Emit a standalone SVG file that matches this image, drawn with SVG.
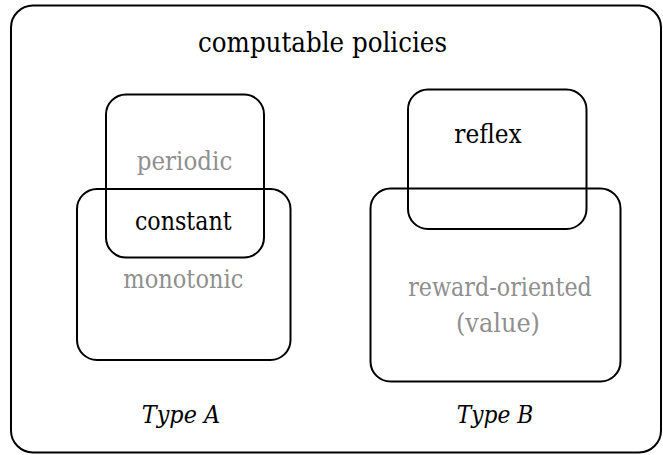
<svg xmlns="http://www.w3.org/2000/svg" width="663" height="455" viewBox="0 0 663 455">
  <style>
    .box { fill: none; stroke: #000; stroke-width: 2; }
    text { font-family: 'DejaVu Serif', serif; font-size: 26px; text-anchor: middle; }
    .dark { fill: #000; }
    .grey { fill: #8f8f8f; }
    .title { font-size: 28px; }
    .it { font-style: italic; font-size: 25px; }
  </style>
  <rect width="663" height="455" fill="#fff"/>

  <g id="computable">
    <rect class="box" x="11" y="5.5" width="650" height="447" rx="22" ry="22"/>
    <text class="dark title" x="322.5" y="52" textLength="249" lengthAdjust="spacingAndGlyphs">computable policies</text>
  </g>

  <g id="monotonic">
    <rect class="box" x="77" y="189" width="213.5" height="171" rx="20" ry="20"/>
    <text class="grey" x="183.3" y="288" textLength="120" lengthAdjust="spacingAndGlyphs">monotonic</text>
  </g>

  <g id="periodic">
    <rect class="box" x="106" y="94.5" width="158" height="163" rx="20" ry="20"/>
    <text class="grey" x="184.5" y="170" textLength="95.6" lengthAdjust="spacingAndGlyphs">periodic</text>
  </g>

  <g id="constant">
    <text class="dark" x="183.3" y="230" textLength="96.7" lengthAdjust="spacingAndGlyphs">constant</text>
  </g>

  <g id="reward-oriented">
    <rect class="box" x="370.5" y="188.5" width="250" height="193" rx="20" ry="20"/>
    <text class="grey" x="500" y="296" textLength="183.7" lengthAdjust="spacingAndGlyphs">reward-oriented</text>
    <text class="grey" x="498" y="332" textLength="84" lengthAdjust="spacingAndGlyphs">(value)</text>
  </g>

  <g id="reflex">
    <rect class="box" x="408" y="89.5" width="178.5" height="139.5" rx="20" ry="20"/>
    <text class="dark" x="488" y="143" textLength="67.4" lengthAdjust="spacingAndGlyphs">reflex</text>
  </g>

  <g id="type-a">
    <text class="dark it" x="181" y="423" textLength="78.3" lengthAdjust="spacingAndGlyphs">Type A</text>
  </g>
  <g id="type-b">
    <text class="dark it" x="495" y="423" textLength="76.6" lengthAdjust="spacingAndGlyphs">Type B</text>
  </g>

  <g id="connectors"/>
</svg>
